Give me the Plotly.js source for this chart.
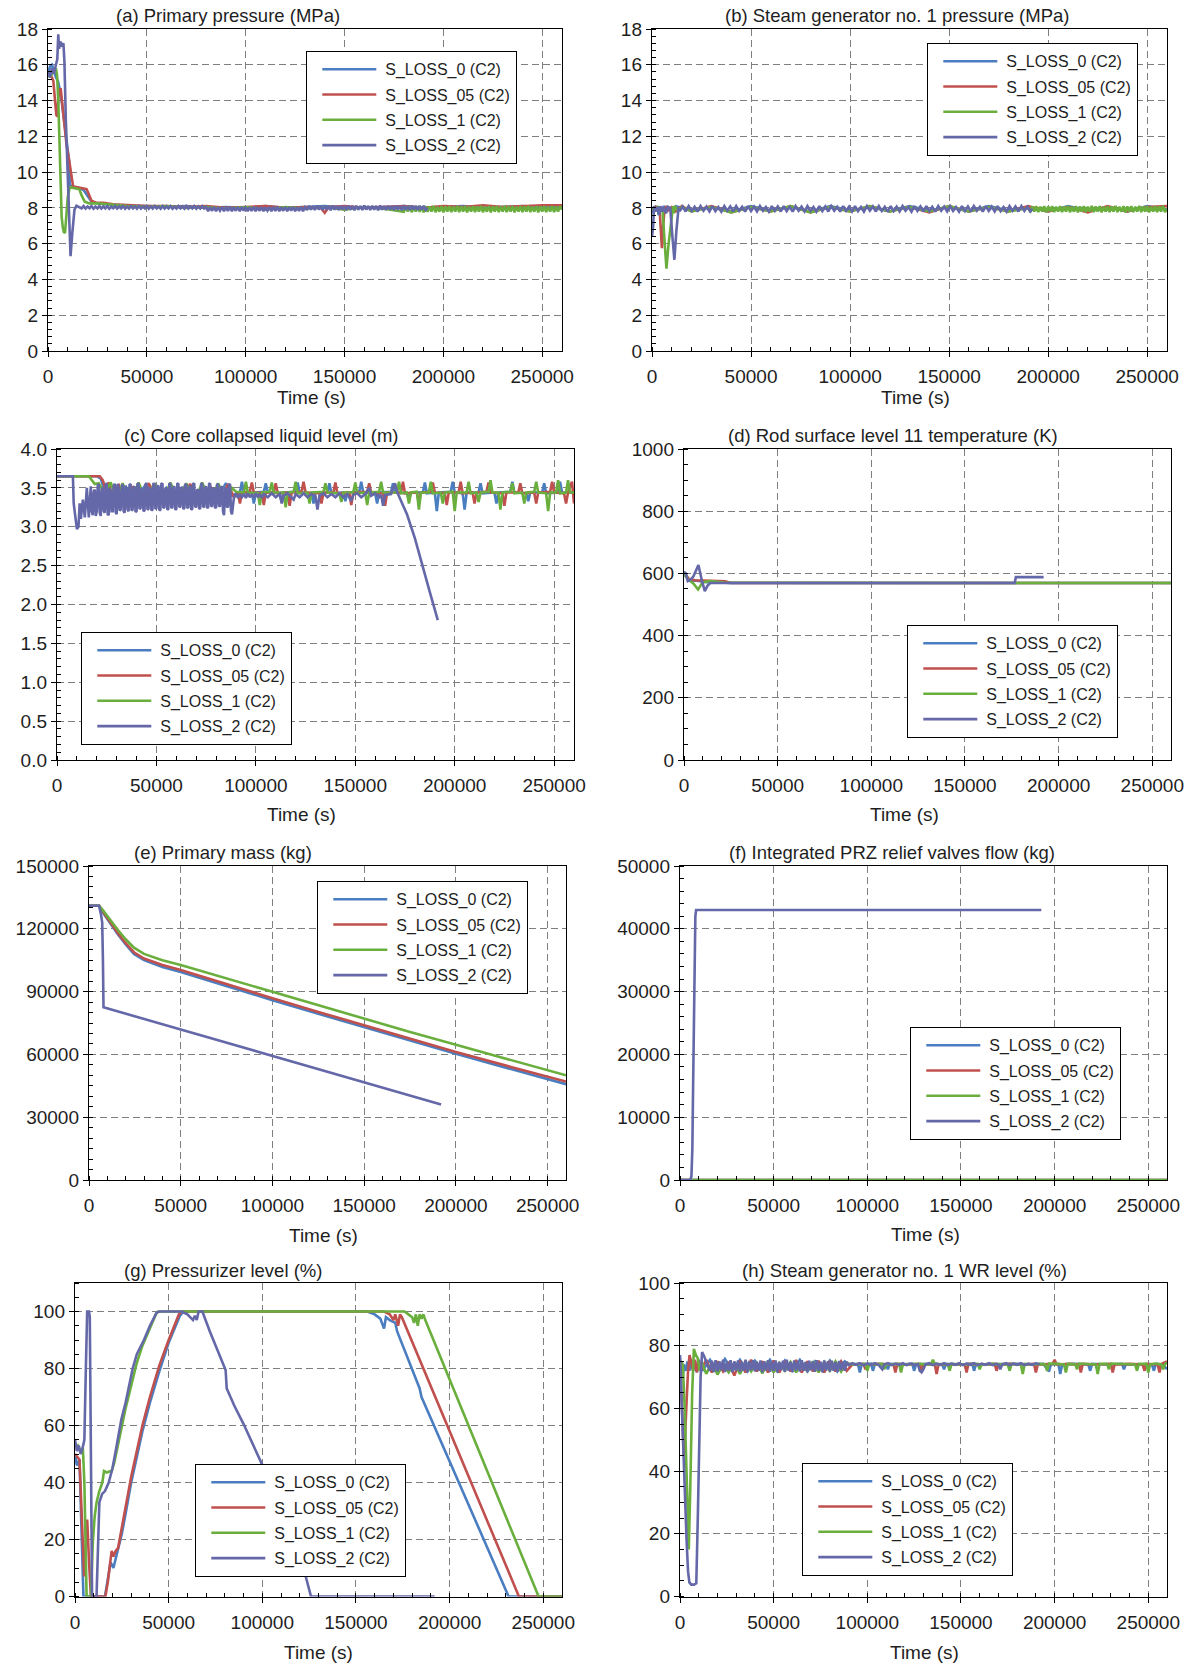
<!DOCTYPE html>
<html><head><meta charset="utf-8">
<script src="https://cdn.plot.ly/plotly-3.0.1.min.js"></script>
<style>html,body{margin:0;padding:0;background:#fff}#chart{width:1190px;height:1665px}</style>
</head><body><div id="chart"></div>
<script>
// ---------------- DATA ----------------
const seriesNames = ['S_LOSS_0 (C2)', 'S_LOSS_05 (C2)', 'S_LOSS_1 (C2)', 'S_LOSS_2 (C2)'];
const xTickVals = [0, 50000, 100000, 150000, 200000, 250000];
const panelTitles = [
  '(a) Primary pressure (MPa)',
  '(b) Steam generator no. 1 pressure (MPa)',
  '(c) Core collapsed liquid level (m)',
  '(d) Rod surface level 11 temperature (K)',
  '(e) Primary mass (kg)',
  '(f) Integrated PRZ relief valves flow (kg)',
  '(g) Pressurizer level (%)',
  '(h) Steam generator no. 1 WR level (%)'
];
const xAxisTitle = 'Time (s)';

// (a) Primary pressure (MPa): [time s, value]
const A_loss0 = [[0,15.5],[1000,15.9],[2000,16.0],[3000,15.6],[4000,15.3],[5000,15.1],[6000,14.6],[7000,13.9],[8000,13.0],[9000,12.1],[10000,11.2],[10700,10.6],[11000,9.3],[12000,9.2],[14000,9.15],[16000,9.1],[18000,9.0],[20000,8.7],[22000,8.35],[25000,8.25],[30000,8.2],[35000,8.15],[40000,8.1],[50000,8.1],[60000,8.05],[70000,8.1],[80000,8.0],[90000,8.05],[100000,8.0],[110000,8.1],[120000,8.0],[130000,8.05],[140000,8.1],[150000,8.0],[160000,8.05],[170000,8.0],[180000,8.1],[190000,8.0],[200000,8.05],[210000,8.1],[220000,8.0],[230000,8.05],[240000,8.1],[250000,8.0],[260000,8.1]];
const A_loss05 = [[0,15.5],[1500,15.4],[2700,15.1],[3500,14.0],[4200,13.2],[4700,13.1],[5300,14.3],[6400,14.7],[7500,13.6],[8500,12.4],[9500,11.4],[10500,10.8],[11400,10.1],[12000,9.6],[12700,9.2],[15000,9.15],[17000,9.1],[19500,9.05],[20500,8.8],[22000,8.4],[24000,8.3],[28000,8.28],[33000,8.2],[40000,8.15],[50000,8.1],[60000,8.1],[70000,8.05],[80000,8.1],[90000,8.0],[100000,8.05],[110000,8.1],[120000,8.0],[130000,8.05],[138000,8.0],[140000,7.72],[142000,8.05],[150000,8.1],[160000,8.0],[170000,8.05],[180000,8.1],[190000,8.0],[200000,8.1],[210000,8.05],[220000,8.15],[230000,8.05],[240000,8.1],[250000,8.15],[260000,8.15]];
const A_loss1 = [[0,15.5],[1000,15.3],[2000,15.5],[3000,15.7],[4000,15.8],[4600,15.4],[5200,14.0],[5800,11.8],[6400,9.0],[6900,7.5],[7500,6.9],[8000,6.65],[8600,6.6],[9200,7.3],[10000,8.6],[11000,9.15],[13000,9.1],[15800,9.05],[17000,8.7],[18600,8.35],[21000,8.25],[25000,8.25],[30000,8.2],[40000,8.1],[50000,8.05],[60000,8.1],[70000,8.0],[80000,8.05],[90000,7.95],[100000,8.05],[110000,7.9],[120000,8.05],[130000,7.95],[140000,8.05],[150000,7.9],[160000,8.05],[170000,7.95],[180000,7.78],[181000,8.08],[182000,7.8],[183000,8.1],[184000,7.76],[185000,8.06],[186000,7.8],[187000,8.1],[188000,7.78],[189000,8.07],[190000,7.75],[191000,8.1],[192000,7.78],[193000,8.08],[194000,7.8],[195000,8.11],[196000,7.76],[197000,8.05],[198000,7.79],[199000,8.1],[200000,7.75],[201000,8.08],[202000,7.8],[203000,8.1],[204000,7.77],[205000,8.06],[206000,7.8],[207000,8.11],[208000,7.76],[209000,8.08],[210000,7.79],[211000,8.1],[212000,7.75],[213000,8.07],[214000,7.8],[215000,8.1],[216000,7.77],[217000,8.08],[218000,7.8],[219000,8.11],[220000,7.76],[221000,8.06],[222000,7.79],[223000,8.1],[224000,7.75],[225000,8.08],[226000,7.8],[227000,8.1],[228000,7.77],[229000,8.07],[230000,7.8],[231000,8.11],[232000,7.76],[233000,8.08],[234000,7.79],[235000,8.1],[236000,7.75],[237000,8.06],[238000,7.8],[239000,8.1],[240000,7.77],[241000,8.08],[242000,7.8],[243000,8.11],[244000,7.76],[245000,8.07],[246000,7.79],[247000,8.1],[248000,7.75],[249000,8.08],[250000,7.8],[251000,8.1],[252000,7.77],[253000,8.06],[254000,7.8],[255000,8.11],[256000,7.76],[257000,8.08],[258000,7.79],[259000,8.1],[260000,7.9]];
const A_loss2 = [[0,15.6],[1000,15.3],[2000,15.8],[3000,15.5],[4000,16.0],[4700,16.3],[5200,17.7],[5600,16.9],[6200,17.3],[7000,17.1],[7800,17.2],[8300,16.2],[9000,13.0],[10000,9.8],[10700,7.2],[11400,5.3],[12300,6.6],[13400,7.9],[14400,8.12],[16000,8.05],[17000,7.97],[18000,8.1],[19000,7.96],[20000,8.08],[21000,7.98],[22000,8.1],[23000,7.95],[24000,8.07],[25000,7.97],[26000,8.1],[27000,7.96],[28000,8.08],[29000,7.97],[30000,8.1],[31000,7.95],[32000,8.07],[33000,7.98],[34000,8.1],[35000,7.96],[36000,8.08],[37000,7.97],[38000,8.1],[39000,7.95],[40000,8.07],[41000,7.96],[42000,8.1],[43000,7.97],[44000,8.08],[45000,7.95],[46000,8.1],[47000,7.96],[48000,8.07],[49000,7.97],[50000,8.1],[51000,7.95],[52000,8.08],[53000,7.96],[54000,8.1],[55000,7.97],[56000,8.07],[57000,7.95],[58000,8.1],[59000,7.96],[60000,8.08],[61000,7.97],[62000,8.1],[63000,7.95],[64000,8.07],[65000,7.96],[66000,8.1],[67000,7.97],[68000,8.08],[69000,7.95],[70000,8.1],[71000,7.96],[72000,8.07],[73000,7.97],[74000,8.1],[75000,7.95],[76000,8.08],[77000,7.96],[78000,8.1],[79000,7.97],[80000,8.05],[81000,7.82],[82000,8.04],[83000,7.84],[84000,8.05],[85000,7.81],[86000,8.03],[87000,7.85],[88000,8.05],[89000,7.82],[90000,8.04],[91000,7.83],[92000,8.06],[93000,7.81],[94000,8.03],[95000,7.84],[96000,8.05],[97000,7.82],[98000,8.04],[99000,7.85],[100000,8.05],[101000,7.81],[102000,8.03],[103000,7.83],[104000,8.06],[105000,7.82],[106000,8.04],[107000,7.84],[108000,8.05],[109000,7.81],[110000,8.03],[111000,7.85],[112000,8.05],[113000,7.82],[114000,8.04],[115000,7.83],[116000,8.06],[117000,7.81],[118000,8.03],[119000,7.84],[120000,8.05],[121000,7.82],[122000,8.04],[123000,7.85],[124000,8.05],[125000,7.81],[126000,8.03],[127000,7.83],[128000,8.06],[129000,7.82],[130000,8.04],[131000,7.88],[132000,8.12],[133000,7.9],[134000,8.1],[135000,7.88],[136000,8.13],[137000,7.91],[138000,8.1],[139000,7.88],[140000,8.12],[141000,7.9],[142000,8.11],[143000,7.87],[144000,8.13],[145000,7.9],[146000,8.1],[147000,7.88],[148000,8.12],[149000,7.91],[150000,8.1],[151000,7.88],[152000,8.13],[153000,7.9],[154000,8.11],[155000,7.87],[156000,8.12],[157000,7.9],[158000,8.1],[159000,7.88],[160000,8.13],[161000,7.91],[162000,8.1],[163000,7.88],[164000,8.12],[165000,7.9],[166000,8.11],[167000,7.87],[168000,8.13],[169000,7.9],[170000,8.1],[171000,7.88],[172000,8.12],[173000,7.91],[174000,8.1],[175000,7.88],[176000,8.13],[177000,7.9],[178000,8.11],[179000,7.87],[180000,8.12],[181000,7.9],[182000,8.1],[183000,7.88],[184000,8.13],[185000,7.91],[186000,8.1],[187000,7.88],[188000,8.12],[189000,7.9],[190000,8.11],[191000,7.88],[192000,8.0]];

// (b) Steam generator no. 1 pressure (MPa)
const B_loss0 = [[0,8.0],[600,7.7],[1200,8.1],[2000,7.9],[2800,8.05],[3400,7.6],[4000,8.05],[5000,7.85],[6000,8.1],[7000,7.9],[8000,8.05],[10000,7.85],[12000,8.1],[20000,7.85],[30000,8.05],[40000,7.8],[50000,8.1],[60000,7.85],[70000,8.05],[80000,7.8],[90000,8.1],[100000,7.85],[110000,8.05],[120000,7.8],[130000,8.1],[140000,7.85],[150000,8.05],[160000,7.8],[170000,8.1],[180000,7.85],[190000,8.05],[200000,7.8],[210000,8.1],[220000,7.85],[230000,8.05],[240000,7.8],[250000,8.1],[260000,7.9]];
const B_loss05 = [[0,8.0],[1000,7.85],[2000,8.05],[3000,7.9],[3800,8.0],[4400,6.8],[5000,5.75],[5600,6.9],[6300,7.9],[7000,8.1],[8000,7.85],[10000,8.05],[12000,7.8],[15000,8.1],[20000,7.8],[30000,8.1],[40000,7.75],[50000,8.05],[60000,7.8],[70000,8.1],[80000,7.75],[90000,8.05],[100000,7.8],[110000,8.1],[120000,7.8],[130000,8.05],[140000,7.75],[150000,8.1],[160000,7.8],[170000,8.05],[180000,7.8],[190000,8.1],[200000,7.8],[210000,8.05],[220000,7.75],[230000,8.1],[240000,7.8],[250000,8.05],[260000,8.1]];
const B_loss1 = [[0,8.0],[1500,7.85],[3000,8.05],[4500,7.9],[5400,7.8],[6300,6.2],[7300,4.6],[8300,5.9],[9500,7.3],[10300,7.8],[10600,8.1],[11000,7.7],[11400,8.1],[13000,7.85],[15000,8.05],[20000,7.8],[30000,8.05],[40000,7.75],[50000,8.05],[60000,7.8],[70000,8.1],[80000,7.75],[90000,8.05],[100000,7.8],[110000,8.1],[120000,7.8],[130000,8.05],[140000,7.8],[150000,8.1],[160000,7.8],[170000,8.05],[180000,7.8],[190000,7.98],[191000,7.76],[192000,8.08],[193000,7.8],[194000,8.1],[195000,7.77],[196000,8.06],[197000,7.8],[198000,8.1],[199000,7.75],[200000,8.08],[201000,7.79],[202000,8.1],[203000,7.76],[204000,8.07],[205000,7.8],[206000,8.1],[207000,7.77],[208000,8.08],[209000,7.8],[210000,8.11],[211000,7.76],[212000,8.06],[213000,7.79],[214000,8.1],[215000,7.75],[216000,8.08],[217000,7.8],[218000,8.1],[219000,7.77],[220000,8.07],[221000,7.8],[222000,8.11],[223000,7.76],[224000,8.08],[225000,7.79],[226000,8.1],[227000,7.75],[228000,8.06],[229000,7.8],[230000,8.1],[231000,7.77],[232000,8.08],[233000,7.8],[234000,8.11],[235000,7.76],[236000,8.07],[237000,7.79],[238000,8.1],[239000,7.75],[240000,8.08],[241000,7.8],[242000,8.1],[243000,7.77],[244000,8.06],[245000,7.8],[246000,8.11],[247000,7.76],[248000,8.08],[249000,7.79],[250000,8.1],[251000,7.75],[252000,8.07],[253000,7.8],[254000,8.1],[255000,7.77],[256000,8.08],[257000,7.8],[258000,8.11],[259000,7.76],[260000,7.95]];
const B_loss2 = [[0,6.4],[600,7.0],[1000,8.1],[2000,7.8],[2800,8.05],[3600,7.6],[4200,8.1],[5200,7.8],[6000,8.05],[7000,7.7],[8000,8.05],[9200,8.0],[10300,6.4],[11300,5.1],[12300,6.7],[13400,8.0],[14000,7.82],[15500,8.08],[17000,7.8],[18500,8.1],[20000,7.83],[21500,8.06],[23000,7.79],[24500,8.1],[26000,7.84],[27500,8.07],[29000,7.8],[30500,8.1],[32000,7.82],[33500,8.05],[35000,7.79],[36500,8.1],[38000,7.84],[39500,8.08],[41000,7.8],[42500,8.1],[44000,7.83],[45500,8.06],[47000,7.79],[48500,8.1],[50000,7.82],[51500,8.07],[53000,7.8],[54500,8.1],[56000,7.84],[57500,8.05],[59000,7.79],[60500,8.1],[62000,7.83],[63500,8.08],[65000,7.8],[66500,8.1],[68000,7.82],[69500,8.06],[71000,7.79],[72500,8.1],[74000,7.84],[75500,8.07],[77000,7.8],[78500,8.1],[80000,7.83],[81500,8.05],[83000,7.79],[84500,8.1],[86000,7.82],[87500,8.08],[89000,7.8],[90500,8.1],[92000,7.84],[93500,8.06],[95000,7.79],[96500,8.1],[98000,7.83],[99500,8.07],[101000,7.8],[102500,8.1],[104000,7.82],[105500,8.05],[107000,7.79],[108500,8.1],[110000,7.84],[111500,8.08],[113000,7.8],[114500,8.1],[116000,7.83],[117500,8.06],[119000,7.79],[120500,8.1],[122000,7.82],[123500,8.07],[125000,7.8],[126500,8.1],[128000,7.84],[129500,8.05],[131000,7.79],[132500,8.1],[134000,7.83],[135500,8.08],[137000,7.8],[138500,8.1],[140000,7.82],[141500,8.06],[143000,7.79],[144500,8.1],[146000,7.84],[147500,8.07],[149000,7.8],[150500,8.1],[152000,7.83],[153500,8.05],[155000,7.79],[156500,8.1],[158000,7.82],[159500,8.08],[161000,7.8],[162500,8.1],[164000,7.84],[165500,8.06],[167000,7.79],[168500,8.1],[170000,7.83],[171500,8.07],[173000,7.8],[174500,8.1],[176000,7.82],[177500,8.05],[179000,7.79],[180500,8.1],[182000,7.84],[183500,8.08],[185000,7.8],[186500,8.1],[188000,7.83],[189500,8.06],[191000,7.8],[192000,7.95]];

// (c) Core collapsed liquid level (m)
const C_loss0 = [[0,3.65],[20000,3.65],[22000,3.62],[23500,3.5],[25000,3.56],[27000,3.4],[29000,3.55],[32000,3.3],[35000,3.5],[40000,3.35],[45000,3.56],[50000,3.3],[55000,3.5],[60000,3.35],[65000,3.55],[70000,3.3],[75000,3.5],[80000,3.35],[85000,3.56],[88000,3.4],[92000,3.44],[93000,3.58],[94000,3.43],[98000,3.44],[99000,3.3],[100000,3.44],[104000,3.45],[105000,3.56],[106000,3.44],[112000,3.43],[113000,3.32],[114000,3.44],[120000,3.45],[121000,3.57],[122000,3.44],[128000,3.43],[129000,3.3],[130000,3.44],[136000,3.44],[137000,3.56],[138000,3.43],[144000,3.44],[145000,3.33],[146000,3.44],[152000,3.45],[153000,3.58],[154000,3.44],[160000,3.43],[161000,3.3],[162000,3.44],[168000,3.45],[169000,3.56],[170000,3.44],[176000,3.43],[177000,3.35],[178000,3.44],[184000,3.44],[185000,3.57],[186000,3.43],[190000,3.44],[191000,3.2],[192000,3.44],[198000,3.45],[199000,3.58],[200000,3.44],[204000,3.43],[205000,3.22],[206000,3.44],[212000,3.44],[213000,3.56],[214000,3.43],[220000,3.44],[221000,3.3],[222000,3.44],[228000,3.45],[229000,3.58],[230000,3.44],[236000,3.43],[237000,3.33],[238000,3.44],[244000,3.44],[245000,3.56],[246000,3.43],[252000,3.44],[253000,3.58],[254000,3.44],[260000,3.44]];
const C_loss05 = [[0,3.65],[21500,3.65],[23000,3.6],[24500,3.48],[26000,3.57],[28000,3.35],[31000,3.55],[34000,3.3],[38000,3.52],[42000,3.32],[46000,3.56],[52000,3.3],[57000,3.52],[62000,3.33],[67000,3.55],[72000,3.3],[77000,3.52],[82000,3.32],[86000,3.55],[89000,3.38],[91000,3.43],[92000,3.3],[93000,3.44],[97000,3.45],[98000,3.57],[99000,3.44],[103000,3.43],[104000,3.28],[105000,3.44],[109000,3.44],[110000,3.56],[111000,3.43],[116000,3.44],[117000,3.27],[118000,3.44],[123000,3.45],[124000,3.58],[125000,3.44],[132000,3.43],[133000,3.3],[134000,3.44],[139000,3.44],[140000,3.57],[141000,3.43],[147000,3.44],[148000,3.28],[149000,3.44],[156000,3.45],[157000,3.56],[158000,3.44],[164000,3.43],[165000,3.27],[166000,3.44],[173000,3.44],[174000,3.58],[175000,3.43],[181000,3.44],[182000,3.3],[183000,3.44],[188000,3.45],[189000,3.57],[190000,3.44],[195000,3.43],[196000,3.28],[197000,3.44],[202000,3.44],[203000,3.58],[204000,3.43],[209000,3.44],[210000,3.3],[211000,3.44],[216000,3.45],[217000,3.57],[218000,3.44],[224000,3.43],[225000,3.27],[226000,3.44],[232000,3.44],[233000,3.56],[234000,3.43],[240000,3.44],[241000,3.3],[242000,3.44],[248000,3.45],[249000,3.58],[250000,3.44],[255000,3.43],[256000,3.3],[257000,3.44],[259000,3.58],[260000,3.3]];
const C_loss1 = [[0,3.65],[16000,3.65],[17500,3.6],[19000,3.55],[21000,3.56],[24000,3.42],[27000,3.57],[30000,3.35],[33000,3.56],[37000,3.3],[41000,3.57],[45000,3.33],[49000,3.56],[53000,3.3],[57000,3.57],[61000,3.34],[65000,3.56],[69000,3.3],[73000,3.57],[77000,3.32],[81000,3.56],[85000,3.35],[88000,3.5],[90000,3.45],[94000,3.44],[95000,3.58],[96000,3.44],[101000,3.43],[102000,3.28],[103000,3.44],[107000,3.45],[108000,3.57],[109000,3.44],[114000,3.44],[115000,3.25],[116000,3.44],[119000,3.45],[120000,3.58],[121000,3.43],[126000,3.44],[127000,3.3],[128000,3.44],[134000,3.45],[135000,3.56],[136000,3.44],[142000,3.43],[143000,3.32],[144000,3.44],[149000,3.44],[150000,3.57],[151000,3.43],[155000,3.44],[156000,3.28],[157000,3.44],[162000,3.45],[163000,3.58],[164000,3.44],[171000,3.44],[172000,3.58],[173000,3.43],[176000,3.44],[177000,3.3],[178000,3.44],[181000,3.45],[182000,3.22],[183000,3.44],[187000,3.44],[188000,3.58],[189000,3.43],[193000,3.44],[194000,3.3],[195000,3.44],[199000,3.45],[200000,3.2],[201000,3.44],[206000,3.44],[207000,3.58],[208000,3.43],[211000,3.44],[212000,3.32],[213000,3.44],[217000,3.45],[218000,3.6],[219000,3.44],[222000,3.44],[223000,3.22],[224000,3.44],[228000,3.45],[229000,3.56],[230000,3.43],[234000,3.44],[235000,3.3],[236000,3.44],[240000,3.45],[241000,3.58],[242000,3.44],[246000,3.43],[247000,3.2],[248000,3.44],[251000,3.44],[252000,3.6],[253000,3.43],[256000,3.44],[257000,3.6],[258000,3.44],[260000,3.44]];
const C_loss2 = [[0,3.65],[8000,3.65],[8400,3.3],[9200,3.1],[10000,2.97],[10800,3.0],[11400,3.3],[12000,3.1],[13000,3.35],[14000,3.12],[15000,3.5],[16000,3.12],[16500,3.4],[17000,3.52],[17500,3.2],[18000,3.15],[18500,3.45],[19000,3.48],[19500,3.14],[20000,3.2],[20500,3.53],[21000,3.55],[21500,3.18],[22000,3.14],[22500,3.47],[23000,3.5],[23500,3.2],[24000,3.18],[24500,3.55],[25000,3.54],[25500,3.16],[26000,3.15],[26500,3.5],[27000,3.45],[27500,3.2],[28000,3.2],[28500,3.52],[29000,3.55],[29500,3.19],[30000,3.16],[30500,3.55],[31000,3.5],[31500,3.21],[32000,3.22],[32500,3.48],[33000,3.55],[33500,3.2],[34000,3.18],[34500,3.53],[35000,3.48],[35500,3.22],[36000,3.2],[36500,3.55],[37000,3.54],[37500,3.21],[38000,3.22],[38500,3.5],[39000,3.52],[39500,3.19],[40000,3.2],[40500,3.56],[41000,3.55],[41500,3.23],[42000,3.24],[42500,3.5],[43000,3.47],[43500,3.2],[44000,3.21],[44500,3.54],[45000,3.56],[45500,3.22],[46000,3.23],[46500,3.48],[47000,3.5],[47500,3.21],[48000,3.22],[48500,3.55],[49000,3.55],[49500,3.23],[50000,3.24],[50500,3.52],[51000,3.53],[51500,3.21],[52000,3.22],[52500,3.55],[53000,3.56],[53500,3.24],[54000,3.25],[54500,3.49],[55000,3.5],[55500,3.22],[56000,3.23],[56500,3.56],[57000,3.55],[57500,3.24],[58000,3.25],[58500,3.5],[59000,3.52],[59500,3.22],[60000,3.23],[60500,3.55],[61000,3.56],[61500,3.25],[62000,3.26],[62500,3.51],[63000,3.5],[63500,3.23],[64000,3.24],[64500,3.54],[65000,3.55],[65500,3.24],[66000,3.25],[66500,3.5],[67000,3.53],[67500,3.22],[68000,3.23],[68500,3.55],[69000,3.56],[69500,3.25],[70000,3.26],[70500,3.47],[71000,3.48],[71500,3.23],[72000,3.24],[72500,3.56],[73000,3.55],[73500,3.25],[74000,3.26],[74500,3.5],[75000,3.52],[75500,3.24],[76000,3.25],[76500,3.55],[77000,3.56],[77500,3.26],[78000,3.27],[78500,3.49],[79000,3.5],[79500,3.24],[80000,3.25],[80500,3.54],[81000,3.55],[81500,3.26],[82000,3.27],[82500,3.5],[83000,3.52],[83500,3.2],[84000,3.15],[84500,3.48],[85000,3.5],[85500,3.25],[86000,3.26],[86500,3.54],[87000,3.55],[87500,3.2],[88000,3.16],[89000,3.38],[90000,3.43],[91000,3.37],[92000,3.42],[93000,3.38],[94000,3.42],[95000,3.37],[96000,3.43],[97000,3.38],[98000,3.42],[99000,3.37],[100000,3.43],[101000,3.38],[102000,3.42],[103000,3.37],[104000,3.42],[106000,3.38],[108000,3.43],[110000,3.38],[112000,3.42],[113000,3.3],[114000,3.4],[116000,3.43],[118000,3.38],[119000,3.35],[120000,3.42],[122000,3.38],[124000,3.43],[126000,3.38],[128000,3.42],[130000,3.39],[131000,3.22],[132000,3.4],[134000,3.43],[136000,3.38],[138000,3.42],[140000,3.38],[142000,3.43],[144000,3.38],[146000,3.42],[147000,3.38],[148000,3.33],[149000,3.41],[151000,3.43],[153000,3.38],[155000,3.42],[157000,3.5],[158000,3.4],[160000,3.43],[162000,3.38],[163000,3.41],[164000,3.27],[165000,3.41],[168000,3.42],[169000,3.5],[170000,3.56],[171000,3.45],[176000,3.16],[180000,2.85],[183700,2.5],[187600,2.15],[191500,1.8]];

// (d) Rod surface level 11 temperature (K)
const D_loss0 = [[0,592],[1000,598],[2500,578],[4000,575],[6000,577],[9000,574],[12000,572],[20000,571],[24000,569],[260000,569]];
const D_loss05 = [[0,600],[1500,590],[3000,580],[6000,578],[10000,577],[15000,576],[22000,575],[25000,569],[260000,569]];
const D_loss1 = [[0,598],[2000,582],[5000,568],[7500,548],[10000,572],[14000,575],[18000,573],[22000,570],[260000,569]];
const D_loss2 = [[0,606],[1000,598],[2000,575],[3500,580],[5000,590],[7700,627],[9500,578],[11100,543],[12500,560],[14000,569],[176500,569],[177200,588],[192000,588]];

// (e) Primary mass (kg)
const E_loss0 = [[0,131000],[5500,131000],[7000,128500],[10000,124500],[13000,120500],[16000,117000],[20000,112500],[24500,108000],[30000,105000],[40000,101800],[50000,99400],[75000,92600],[100000,85900],[125000,79400],[150000,73000],[175000,66600],[200000,60300],[230000,53000],[260000,45800]];
const E_loss05 = [[0,131000],[5500,131000],[7000,129000],[10000,125000],[13000,121000],[16000,117600],[20000,113100],[24500,108800],[30000,105800],[40000,102700],[50000,100300],[75000,93500],[100000,86800],[125000,80300],[150000,73900],[175000,67500],[200000,61100],[230000,54000],[260000,47000]];
const E_loss1 = [[0,131000],[5500,131000],[7000,129500],[10000,126000],[13000,122500],[16000,119200],[20000,115000],[24500,111000],[30000,108000],[40000,105000],[50000,102700],[75000,96300],[100000,89900],[125000,83400],[150000,76900],[175000,70700],[200000,64600],[230000,57300],[260000,50000]];
const E_loss2 = [[0,131000],[5500,131000],[6500,127000],[7200,123000],[7600,105000],[7900,82500],[50000,71900],[100000,59200],[150000,46600],[191900,36100]];

// (f) Integrated PRZ relief valves flow (kg)
const F_loss0 = [[0,0],[260000,0]];
const F_loss05 = [[0,0],[260000,0]];
const F_loss1 = [[0,0],[260000,0]];
const F_loss2 = [[0,0],[5500,0],[6100,600],[6600,5000],[7000,15000],[7400,28000],[7800,38000],[8200,42000],[8600,43000],[192900,43000]];

// (g) Pressurizer level (%)
const G_loss0 = [[0,50],[1000,46],[2400,48],[3500,25],[4500,0],[16000,0],[17500,6],[19000,12],[20500,10],[22000,14],[23000,16],[25000,22],[27000,29],[30000,40],[33000,49],[36000,58],[40000,68],[45000,79],[50000,89],[53000,94],[56000,98.5],[58000,100],[156000,100],[160000,99],[163000,97.5],[165000,94],[166000,98],[168000,97],[171000,96],[172000,93],[184000,73],[185000,70],[231500,0],[260000,0]];
const G_loss05 = [[0,50],[2400,48],[3500,30],[4900,7],[5500,15],[6500,27],[7500,12],[8500,0],[16200,0],[17500,5],[19000,13],[19600,16],[20500,14],[21700,16],[23000,17],[24700,23],[27000,31],[30000,42],[33000,51],[36000,60],[40000,70],[45000,81],[50000,90],[53000,95],[55500,99],[57000,100],[165000,100],[168000,99],[170000,97],[171000,99],[172500,95],[173500,99],[174500,98],[237000,0],[260000,0]];
const G_loss1 = [[0,52],[1500,53],[3000,51],[4200,52],[5000,40],[5800,10],[6200,0],[8500,0],[9500,19],[10500,28],[11500,33],[13000,37],[14600,40],[15500,44],[17000,43.5],[19000,44],[19600,44],[21000,47],[24000,57],[27000,66],[30000,74],[33000,82],[36000,88],[40000,94],[43500,99.5],[44500,100],[176000,100],[178000,99],[180000,98],[181000,96],[182000,99],[183000,95],[184000,99],[185000,97.5],[186000,99],[187000,97],[247500,0],[260000,0]];
const G_loss2 = [[0,55],[1000,51],[2000,53],[3000,50],[4000,52],[5000,55],[5800,80],[6500,100],[7500,100],[7900,98],[8500,50],[9100,0],[11500,0],[12200,20],[13000,33],[14500,36],[16000,37],[18000,40],[20000,45],[22000,52],[24700,62],[27000,68],[30800,80],[33000,85],[36800,90],[40000,95],[43500,99.5],[45000,100],[57000,100],[60000,99],[63000,97],[64000,98.5],[65000,97],[66000,100],[68000,100],[72000,93],[76000,86.5],[80400,79.5],[81000,73],[85000,67],[90000,60.5],[95000,53.5],[99600,47],[105000,39],[110000,31],[114000,25],[118000,18],[122000,10],[126000,0],[192000,0]];

// (h) Steam generator no. 1 WR level (%)
const H_loss0 = [[0,76],[500,72],[1000,75],[1500,70],[2000,74],[3000,72],[4000,75],[5000,72],[6000,75.5],[7000,72],[8000,75],[9000,71.5],[10000,75.5],[12000,72],[16000,75.5],[20000,71.8],[24000,75.8],[28000,72],[32000,75.5],[36000,71.8],[40000,75.2],[44000,72],[48000,75.5],[52000,71.8],[56000,75.3],[60000,72],[64000,75.5],[68000,71.8],[72000,75],[76000,72],[80000,75.3],[84000,71.8],[88000,75],[90000,74],[95000,74.2],[96000,71.5],[97000,74],[102000,74.3],[103000,72],[104000,74.1],[110000,74],[111000,72.5],[112000,74.2],[118000,74],[124000,74.3],[125000,72],[126000,74],[132000,74.2],[140000,74],[141000,72.5],[142000,74.2],[150000,74],[156000,74.3],[157000,72],[158000,74],[165000,74.1],[172000,74],[180000,74.2],[186000,74],[194000,74.2],[197000,71.8],[198000,74],[202000,74.2],[203000,71],[204000,74],[210000,74.2],[218000,74],[219000,72],[220000,74.2],[228000,74],[236000,74.2],[237000,72.5],[238000,74],[245000,74.1],[252000,74],[253000,72],[254000,74.2],[258000,74],[260000,72.5]];
const H_loss05 = [[0,75],[600,68],[1200,58],[2000,45],[2800,52],[3500,62],[4300,72],[5100,77],[6000,75],[7000,72],[8000,75.5],[9000,71.5],[10000,75],[11000,72],[14000,75.5],[17000,71.5],[20000,75],[23000,71.8],[26000,74.8],[29000,70.5],[32000,75.2],[35000,71.5],[38000,75.5],[41000,71.8],[44000,75],[47000,71.5],[50000,75.3],[53000,71.5],[56000,75],[59000,71.8],[62000,75.4],[65000,71.5],[68000,75],[71000,71.8],[74000,75.2],[77000,71.5],[80000,75],[83000,71.8],[86000,75],[89000,72],[92000,74],[98000,74.2],[99000,72.5],[100000,74],[106000,74.2],[114000,74],[115000,71.5],[116000,74.2],[122000,74],[128000,74.2],[129000,72],[130000,74],[136000,74.2],[137000,71],[138000,74],[145000,74.1],[152000,74],[153000,71.5],[154000,74.2],[160000,74],[168000,74.2],[169000,72],[170000,74],[176000,74.2],[183000,74],[189000,74.2],[190000,71.5],[191000,74],[199000,74.2],[200000,75.5],[201000,74],[208000,74.2],[213000,74],[214000,71.5],[215000,74.2],[222000,74],[230000,74.2],[231000,71.5],[232000,74],[240000,74.2],[247000,74],[248000,72],[249000,74.2],[255000,74],[256000,71.5],[257000,74.2],[260000,75]];
const H_loss1 = [[0,75],[1500,74],[2500,60],[3500,40],[4700,15],[5500,35],[6500,65],[7400,79],[8500,77],[9500,76],[10500,72],[11500,75],[14000,71],[17000,74.5],[20000,70.8],[23000,74],[26000,71.5],[29000,74.5],[32000,71],[35000,74.8],[38000,71.8],[41000,74.5],[44000,71.2],[47000,75],[50000,71.5],[53000,74.5],[56000,72],[59000,74.8],[62000,71.5],[65000,74.5],[68000,72],[71000,75],[74000,71.5],[77000,74.8],[80000,72],[83000,75],[86000,71.8],[89000,74.5],[92000,74],[99000,74.2],[100000,72],[101000,74],[108000,74.2],[109000,72.5],[110000,74],[117000,74.2],[118000,71.5],[119000,74],[127000,74.2],[134000,74],[135000,75.5],[136000,74.2],[143000,74],[144000,72],[145000,74.2],[151000,74],[159000,74.2],[160000,72.5],[161000,74],[167000,74.2],[175000,74],[176000,72],[177000,74.2],[182000,74],[183000,71],[184000,74.2],[188000,74],[192000,74.2],[195000,74],[196000,72],[197000,74.3],[201000,74.2],[205000,74],[206000,71.5],[207000,74.2],[211000,74.1],[212000,72.5],[213000,74.3],[217000,74.2],[222000,74],[223000,71],[224000,74.2],[228000,74.2],[229000,72.5],[230000,74.3],[235000,74.2],[240000,74.1],[243000,74],[244000,72],[245000,74.2],[249000,74.2],[250000,71.5],[251000,74],[254000,74.3],[257000,74],[258000,72.5],[259000,74.2],[260000,74.5]];
const H_loss2 = [[0,77],[800,65],[1600,50],[2500,35],[3500,18],[4300,8],[5000,4.5],[6000,3.8],[7500,3.8],[8700,4.2],[9500,25],[10300,55],[11000,70],[11800,78],[13000,76.5],[14500,74],[16000,72],[17000,75.2],[18000,71.6],[19000,75.4],[20000,71.8],[21000,75],[22000,72.2],[23000,75.5],[24000,71.6],[25000,74.8],[26000,72],[27000,75.4],[28000,71.5],[29000,75],[30000,72.1],[31000,75.3],[32000,71.7],[33000,74.9],[34000,72],[35000,75.5],[36000,71.6],[37000,75.1],[38000,72.2],[39000,75.4],[40000,71.8],[41000,74.9],[42000,72],[43000,75.3],[44000,71.5],[45000,75],[46000,72.1],[47000,75.4],[48000,71.7],[49000,75],[50000,72],[51000,75.3],[52000,71.6],[53000,74.8],[54000,72.2],[55000,75.2],[56000,71.7],[57000,75.5],[58000,72],[59000,74.9],[60000,71.6],[61000,75.3],[62000,72.1],[63000,75],[64000,71.8],[65000,75.4],[66000,72],[67000,74.8],[68000,71.6],[69000,75.2],[70000,72.2],[71000,75],[72000,71.7],[73000,75.4],[74000,72],[75000,74.9],[76000,71.6],[77000,75.3],[78000,72.1],[79000,75],[80000,71.8],[81000,75.2],[82000,72],[83000,74.8],[84000,71.7],[85000,75.1],[86000,72.2],[87000,74.9],[88000,72],[89000,74.8],[90000,73.8],[92000,74.4],[94000,73.9],[96000,74.4],[98000,73.8],[100000,74.3],[102000,73.9],[104000,74.4],[106000,73.9],[108000,72.5],[109000,74],[111000,74.4],[113000,73.8],[115000,74.3],[117000,73.9],[119000,74.4],[121000,73.8],[123000,74.3],[125000,73.9],[127000,74.1],[128000,72],[129000,71.5],[130000,72.5],[131000,74],[133000,74.4],[135000,73.8],[137000,74.3],[139000,73.9],[141000,74.4],[143000,73.8],[145000,74.3],[147000,73.9],[149000,74.4],[151000,73.8],[153000,74.3],[155000,73.9],[157000,74.4],[159000,73.8],[161000,74.3],[163000,73.9],[165000,74.4],[167000,73.8],[169000,74.2],[170000,74],[171000,72.5],[172000,74],[174000,74.4],[176000,73.8],[178000,74.3],[180000,73.9],[182000,74.4],[184000,73.8],[186000,74.3],[188000,73.9],[190000,74.4],[192000,74.1]];

// ---------------- STYLE / LAYOUT ----------------
const W = 1190, H = 1665;
const COLORS = ['#4A7EC0', '#C0504D', '#6AAF3E', '#6467A8'];
const FONT = '"Liberation Sans", Arial, Helvetica, sans-serif';
const TXT = '#1e1e1e';

const panels = [
  {series:[A_loss0,A_loss05,A_loss1,A_loss2], box:[48,562,29,351],  yr:[0,18],     dt:2,     mdt:0.4,  fmt:'d',   title:[228,15],   xt:[311,398],  leg:[306,51]},
  {series:[B_loss0,B_loss05,B_loss1,B_loss2], box:[652,1167,29,351], yr:[0,18],    dt:2,     mdt:0.4,  fmt:'d',   title:[897,15],   xt:[915,398],  leg:[927,43]},
  {series:[C_loss0,C_loss05,C_loss1,C_loss2], box:[57,574,449,760],  yr:[0,4],     dt:0.5,   mdt:0.1,  fmt:'.1f', title:[261,435],  xt:[301,815],  leg:[81,632]},
  {series:[D_loss0,D_loss05,D_loss1,D_loss2], box:[684,1171,449,760], yr:[0,1000], dt:200,   mdt:50,   fmt:'d',   title:[893,435],  xt:[904,815],  leg:[907,625]},
  {series:[E_loss0,E_loss05,E_loss1,E_loss2], box:[89,566,866,1180], yr:[0,150000], dt:30000, mdt:5000, fmt:'d',   title:[223,852],  xt:[323,1235], leg:[317,881]},
  {series:[F_loss0,F_loss05,F_loss1,F_loss2], box:[680,1167,866,1180], yr:[0,50000], dt:10000, mdt:2000, fmt:'d', title:[892,852],  xt:[925,1234], leg:[910,1027]},
  {series:[G_loss0,G_loss05,G_loss1,G_loss2], box:[75,562,1283,1596.5], yr:[0,110], dt:20,  mdt:5,    fmt:'d',   title:[223,1270], xt:[318,1652], leg:[195,1464], tickmax:100},
  {series:[H_loss0,H_loss05,H_loss1,H_loss2], box:[680,1167,1283,1596.5], yr:[0,100], dt:20, mdt:5,   fmt:'d',   title:[904,1270], xt:[924,1652], leg:[802,1463]}
];

const traces = [];
const layout = {
  width: W, height: H,
  margin: {l:0, r:0, t:0, b:0},
  paper_bgcolor: '#fff', plot_bgcolor: '#fff',
  font: {family: FONT, color: TXT, size: 19},
  annotations: [],
  showlegend: true
};

panels.forEach((p, i) => {
  const n = i + 1;
  const xk = n === 1 ? 'xaxis' : 'xaxis' + n;
  const yk = n === 1 ? 'yaxis' : 'yaxis' + n;
  const xr = n === 1 ? 'x' : 'x' + n;
  const yr = n === 1 ? 'y' : 'y' + n;
  const lk = n === 1 ? 'legend' : 'legend' + n;
  const [x0, x1, y0, y1] = p.box;
  const common = {
    showline: true, linecolor: '#000', linewidth: 1.2, mirror: true,
    ticks: 'outside', ticklen: 5, tickcolor: '#000', tickwidth: 1,
    showgrid: true, gridcolor: '#7f7f7f', gridwidth: 1, griddash: '7px,4px',
    zeroline: false, tickfont: {family: FONT, size: 19, color: TXT},
    fixedrange: true
  };
  layout[xk] = Object.assign({}, common, {
    domain: [x0 / W, x1 / W], anchor: yr, range: [0, 260000],
    tickmode: 'array', tickvals: xTickVals, ticktext: xTickVals.map(v => String(v)),
    ticklabelstandoff: 3,
    minor: {dtick: 10000, tick0: 0, ticks: 'inside', ticklen: 4, tickcolor: '#000', showgrid: false}
  });
  const yticks = [];
  const top = p.tickmax !== undefined ? p.tickmax : p.yr[1];
  for (let v = p.yr[0]; v <= top + 1e-9; v += p.dt) yticks.push(+v.toFixed(6));
  layout[yk] = Object.assign({}, common, {
    domain: [1 - y1 / H, 1 - y0 / H], anchor: xr, range: p.yr,
    tickmode: 'array', tickvals: yticks,
    ticktext: yticks.map(v => p.fmt === '.1f' ? v.toFixed(1) : String(Math.round(v))),
    minor: {dtick: p.mdt, tick0: 0, ticks: 'inside', ticklen: 4, tickcolor: '#000', showgrid: false}
  });
  layout[lk] = {
    x: p.leg[0] / W, y: 1 - p.leg[1] / H, xanchor: 'left', yanchor: 'top',
    xref: 'paper', yref: 'paper',
    bgcolor: '#fff', bordercolor: '#000', borderwidth: 1.3,
    font: {family: FONT, size: 16, color: TXT},
    tracegroupgap: 1.5, itemwidth: 68
  };
  layout.annotations.push({
    text: panelTitles[i], xref: 'paper', yref: 'paper',
    x: p.title[0] / W, y: 1 - p.title[1] / H, xanchor: 'center', yanchor: 'middle',
    showarrow: false, font: {family: FONT, size: 18.5, color: TXT}
  });
  layout.annotations.push({
    text: xAxisTitle, xref: 'paper', yref: 'paper',
    x: p.xt[0] / W, y: 1 - p.xt[1] / H, xanchor: 'center', yanchor: 'middle',
    showarrow: false, font: {family: FONT, size: 19, color: TXT}
  });
  p.series.forEach((s, k) => {
    traces.push({
      type: 'scatter', mode: 'lines',
      x: s.map(d => d[0]), y: s.map(d => d[1]),
      xaxis: xr, yaxis: yr,
      name: seriesNames[k], legend: lk, legendgroup: lk + '_' + k,
      line: {color: COLORS[k], width: 2.6},
      showlegend: true, hoverinfo: 'skip'
    });
  });
});

Plotly.newPlot('chart', traces, layout, {staticPlot: true, displayModeBar: false}).then(gd => {
  // legend line samples: 54 px long with a small gap before the label, as in the original
  gd.querySelectorAll('.legendlines path').forEach(pth => {
    pth.setAttribute('d', 'M15,0h54');
  });
});
</script>
</body></html>
